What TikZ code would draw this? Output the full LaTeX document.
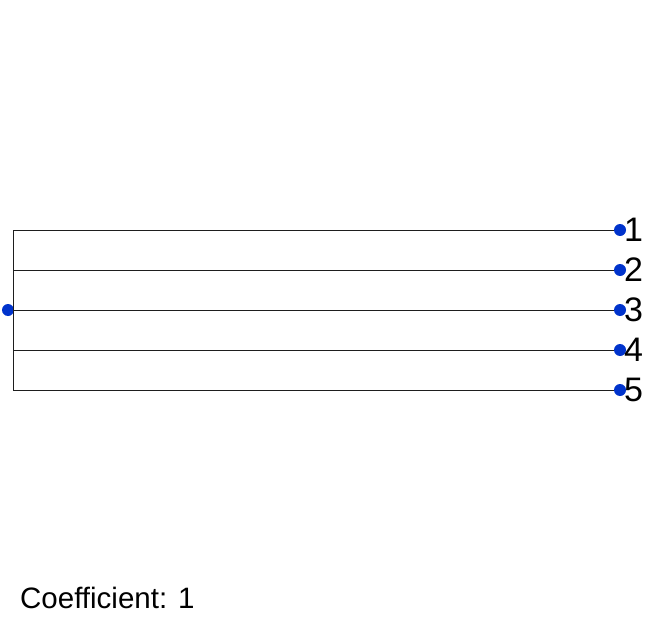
\documentclass[tikz,border=0pt]{standalone}
\usepackage{fontspec}
\setmainfont{Liberation Sans}
\definecolor{dotblue}{RGB}{0,51,204}
\definecolor{linegray}{RGB}{30,30,30}
\tikzset{
  leaf/.style={circle,fill=dotblue,inner sep=0pt,minimum size=12bp},
  lbl/.style={anchor=west,inner sep=0pt,font=\fontsize{34bp}{34bp}\selectfont},
  branch/.style={draw=linegray,line width=0.8bp}
}
\begin{document}
\begin{tikzpicture}[x=1bp,y=-1bp]
\useasboundingbox (0,0) rectangle (648,621);
\node[leaf] (root) at (8,310) {};
\coordinate (t) at (13,230);
\coordinate (b) at (13,390);
\foreach \i/\y in {1/230,2/270,3/310,4/350,5/390}{
  \coordinate (s\i) at (13,\y);
  \node[leaf] (n\i) at (620,\y) {};
  \node[lbl] (l\i) at (624,\y) {\i};
  \draw[branch] (s\i) -- (n\i);
}
\draw[branch] (t) -- (b);
\node[anchor=base west,inner sep=0pt,font=\fontsize{29.5bp}{29.5bp}\selectfont] (coef) at (20,608) {Coefficient: 1};
\end{tikzpicture}
\end{document}
